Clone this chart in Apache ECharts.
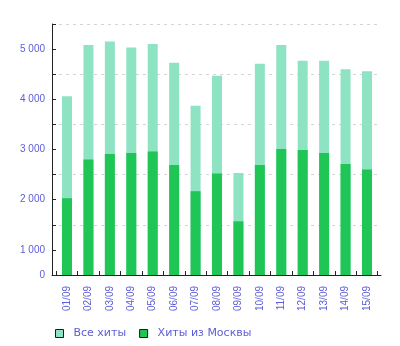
<!DOCTYPE html>
<html>
<head>
<meta charset="utf-8">
<script src="https://cdn.jsdelivr.net/npm/echarts@6/dist/echarts.min.js"></script>
<style>
  html, body { margin: 0; padding: 0; background: #fff; }
  #chart { width: 400px; height: 346px; }
</style>
</head>
<body>
<div id="chart"></div>
<script>
// Daily hits, 1–15 September
const days = ['01/09', '02/09', '03/09', '04/09', '05/09', '06/09', '07/09', '08/09',
              '09/09', '10/09', '11/09', '12/09', '13/09', '14/09', '15/09'];
const allHits = [4060, 5080, 5150, 5030, 5100, 4730, 3870, 4470,
                 2530, 4710, 5080, 4770, 4770, 4600, 4560];
const moscowHits = [2030, 2800, 2910, 2930, 2960, 2690, 2170, 2520,
                    1570, 2690, 3010, 2990, 2930, 2710, 2600];
const seriesNames = ['Все хиты', 'Хиты из Москвы'];

// Value axis: the scale starts at 500, which is labelled "0"
const yTickValues = [500, 1000, 2000, 3000, 4000, 5000];
const yTickLabels = ['0', '1 000', '2 000', '3 000', '4 000', '5 000'];
const yMin = 500, yMax = 5500, yStep = 500;

const textColor = '#5d5dd8';
const axisColor = '#222';
const font = 'Liberation Sans, Arial, sans-serif';
const legendFont = 'DejaVu Sans, Verdana, sans-serif';

const chart = echarts.init(document.getElementById('chart'), null, { renderer: 'canvas' });

chart.setOption({
  animation: false,
  backgroundColor: '#fff',
  textStyle: { fontFamily: font },
  grid: [
    // frame: y axis and the full-length baseline
    { left: 52, right: 19, top: 24, bottom: 71 },
    // bars
    { left: 56.3, width: 321.4, top: 24, bottom: 71 }
  ],
  legend: {
    left: 50,
    top: 323,
    icon: 'rect',
    itemWidth: 8,
    itemHeight: 8,
    itemGap: 13,
    itemStyle: { borderColor: '#1a1a1a', borderWidth: 1 },
    textStyle: { color: textColor, fontSize: 11, fontFamily: legendFont, padding: [0, 0, 0, 5] },
    data: seriesNames
  },
  xAxis: [
    {
      gridIndex: 0, type: 'value', min: 0, max: 1,
      axisLine: { show: true, lineStyle: { color: axisColor, width: 1 } },
      axisTick: { show: false }, axisLabel: { show: false }, splitLine: { show: false }
    },
    {
      gridIndex: 1, type: 'category', data: days,
      axisLine: { show: false },
      axisTick: { show: true, inside: true, length: 4, lineStyle: { color: axisColor } },
      axisLabel: { rotate: 90, margin: 11, color: textColor, fontSize: 10, fontFamily: font, interval: 0 },
      splitLine: { show: false }
    }
  ],
  yAxis: [
    {
      gridIndex: 0, type: 'value', min: yMin, max: yMax, interval: yStep,
      axisLine: { show: true, lineStyle: { color: axisColor, width: 1 } },
      axisTick: { show: true, inside: true, length: 4, lineStyle: { color: axisColor } },
      axisLabel: {
        color: textColor, fontSize: 10, fontFamily: font, margin: 7,
        formatter: v => {
          const i = yTickValues.indexOf(v);
          return i >= 0 ? yTickLabels[i] : '';
        }
      },
      splitLine: {
        show: true,
        lineStyle: { type: [3, 4], width: 1, color: ['#d4d4d4', 'rgba(0,0,0,0)'] }
      }
    },
    {
      gridIndex: 1, type: 'value', min: yMin, max: yMax, interval: yStep, show: false,
      splitLine: { show: false }
    }
  ],
  series: [
    {
      name: seriesNames[0], type: 'bar', xAxisIndex: 1, yAxisIndex: 1,
      data: allHits, barWidth: 10, barGap: '-100%',
      itemStyle: { color: '#8ee3c3' }
    },
    {
      name: seriesNames[1], type: 'bar', xAxisIndex: 1, yAxisIndex: 1,
      data: moscowHits, barWidth: 10, barGap: '-100%',
      itemStyle: { color: '#1fc656' }
    }
  ]
});
</script>
</body>
</html>
